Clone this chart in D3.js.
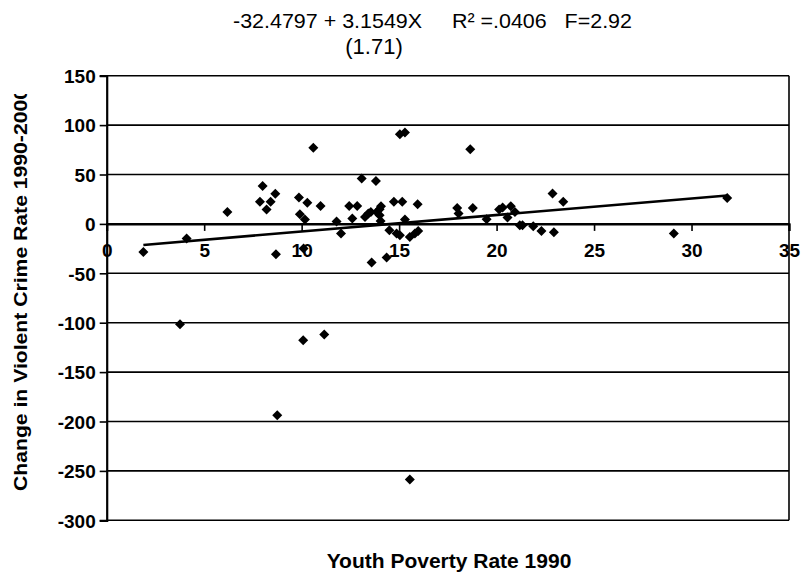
<!DOCTYPE html>
<html>
<head>
<meta charset="utf-8">
<script src="https://cdn.jsdelivr.net/npm/d3@7"></script>
<style>
  body { margin: 0; background: #fff; }
  text { fill: #000; }
</style>
</head>
<body>
<div id="chart"></div>
<script>
// Youth poverty rate 1990 (x) vs change in violent crime rate 1990-2000 (y)
const povertyRate = [1.88, 4.10, 3.76, 6.19, 8.0, 7.86, 8.2, 8.41, 8.65, 8.68,
  8.75, 9.86, 10.29, 10.6, 9.91, 10.17, 10.1, 10.08, 11.16, 10.97,
  11.79, 12.02, 12.44, 12.85, 12.6, 13.08, 13.81, 13.25, 13.42, 13.55,
  13.85, 14.0, 14.07, 14.0, 14.05, 14.5, 14.73, 15.16, 15.3, 14.87,
  15.04, 15.55, 15.81, 15.98, 15.95, 15.04, 15.3, 13.59, 14.36, 15.55,
  18.65, 17.98, 18.05, 18.78, 19.49, 20.13, 20.31, 20.56, 20.73, 20.94,
  21.19, 21.33, 21.88, 22.3, 22.87, 23.42, 22.94, 29.09, 31.83];
const crimeChange = [-28.5, -14.8, -101.5, 12, 38.3, 22.3, 14.6, 22.3, 30.6, -30.7,
  -193.6, 26.7, 21.3, 77, 9.8, 4.5, -25, -117.7, -112, 18.2,
  2.5, -9.7, 18.2, 18.2, 5.5, 45.9, 43.5, 7, 10.5, 12,
  12.1, 14.8, 17.9, 8.8, 3, -6.4, 22.3, 22.3, 4.5, -9.7,
  -11.4, -13.2, -9.7, -7.1, 19.9, 90.8, 92.5, -39, -34, -258.7,
  75.6, 16.2, 10.5, 16.2, 4.8, 14.6, 16.6, 6.5, 17.9, 12.1,
  -1.3, -1.3, -2.3, -7.2, 30.8, 22.3, -8.5, -9.7, 26.3];

// fitted line as drawn in the chart
const trendX = [1.88, 31.83];
const trendY = [-21.3, 28.8];

const xTicks = [0, 5, 10, 15, 20, 25, 30, 35];
const yTicks = [150, 100, 50, 0, -50, -100, -150, -200, -250, -300];

const titleLine1 = "-32.4797 + 3.1549X     R\u00B2 =.0406   F=2.92";
const titleLine2 = "(1.71)";
const xTitle = "Youth Poverty Rate 1990";
const yTitle = "Change in Violent Crime Rate 1990-2000";

const width = 803, height = 577;
const plot = { left: 106.7, right: 789, top: 75.7, bottom: 520.3 };
const sans = "'Liberation Sans', Arial, sans-serif";

const svg = d3.select("#chart")
  .append("svg")
  .attr("width", width)
  .attr("height", height);

const x = d3.scaleLinear().domain([0, 35]).range([plot.left, plot.right]);
const y = d3.scaleLinear().domain([-300, 150]).range([plot.bottom, plot.top]);

// horizontal gridlines
svg.append("g")
  .selectAll("line")
  .data(yTicks)
  .join("line")
    .attr("x1", plot.left)
    .attr("x2", plot.right)
    .attr("y1", d => y(d))
    .attr("y2", d => y(d))
    .attr("stroke", "#000")
    .attr("stroke-width", 1.6);

// right border of plot area
svg.append("line")
  .attr("x1", plot.right).attr("x2", plot.right)
  .attr("y1", plot.top).attr("y2", plot.bottom)
  .attr("stroke", "#000").attr("stroke-width", 1.6);

// y axis
const yAxis = svg.append("g")
  .attr("transform", `translate(${plot.left},0)`)
  .call(d3.axisLeft(y).tickValues(yTicks).tickSize(7).tickPadding(4)
    .tickFormat(d => String(d)));
yAxis.select(".domain").attr("stroke-width", 2.2);
yAxis.selectAll(".tick line").attr("stroke-width", 1.6);
yAxis.selectAll("text")
  .style("font-size", "19px")
  .style("font-weight", "bold")
  .style("font-family", sans)
  .attr("dy", "0.36em");

// points
const pts = povertyRate.map((v, i) => ({ x: v, y: crimeChange[i] }));
svg.append("g")
  .selectAll("path")
  .data(pts)
  .join("path")
    .attr("transform", d => `translate(${x(d.x)},${y(d.y)})`)
    .attr("d", "M0,-5L5,0L0,5L-5,0Z")
    .attr("fill", "#000");

// x axis through zero
const xAxis = svg.append("g")
  .attr("transform", `translate(0,${y(0)})`)
  .call(d3.axisBottom(x).tickValues(xTicks).tickSize(7).tickPadding(13));
xAxis.select(".domain").attr("stroke-width", 2.2);
xAxis.selectAll(".tick line").attr("stroke-width", 1.6);
xAxis.selectAll("text")
  .style("font-size", "19px")
  .style("font-weight", "bold")
  .style("font-family", sans);

// trendline
svg.append("path")
  .datum(trendX.map((v, i) => [v, trendY[i]]))
  .attr("d", d3.line().x(d => x(d[0])).y(d => y(d[1])))
  .attr("fill", "none")
  .attr("stroke", "#000")
  .attr("stroke-width", 2.6);

// titles
svg.append("text")
  .attr("x", 233).attr("y", 28)
  .attr("text-anchor", "start")
  .style("font-family", sans)
  .style("font-size", "21px")
  .style("white-space", "pre")
  .attr("textLength", 399)
  .attr("lengthAdjust", "spacingAndGlyphs")
  .text(titleLine1);

svg.append("text")
  .attr("x", 374).attr("y", 54)
  .attr("text-anchor", "middle")
  .style("font-family", sans)
  .style("font-size", "22px")
  .text(titleLine2);

svg.append("text")
  .attr("x", 449).attr("y", 568)
  .attr("text-anchor", "middle")
  .style("font-family", sans)
  .style("font-size", "21px")
  .style("font-weight", "bold")
  .text(xTitle);

svg.append("clipPath").attr("id", "yclip")
  .append("rect").attr("x", 0).attr("y", 94).attr("width", 60).attr("height", 480);

svg.append("g")
  .attr("clip-path", "url(#yclip)")
  .append("text")
  .attr("transform", "translate(27,491) rotate(-90)")
  .attr("text-anchor", "start")
  .style("font-family", sans)
  .style("font-size", "18px")
  .style("font-weight", "bold")
  .attr("textLength", 403)
  .attr("lengthAdjust", "spacingAndGlyphs")
  .text(yTitle);
</script>
</body>
</html>
